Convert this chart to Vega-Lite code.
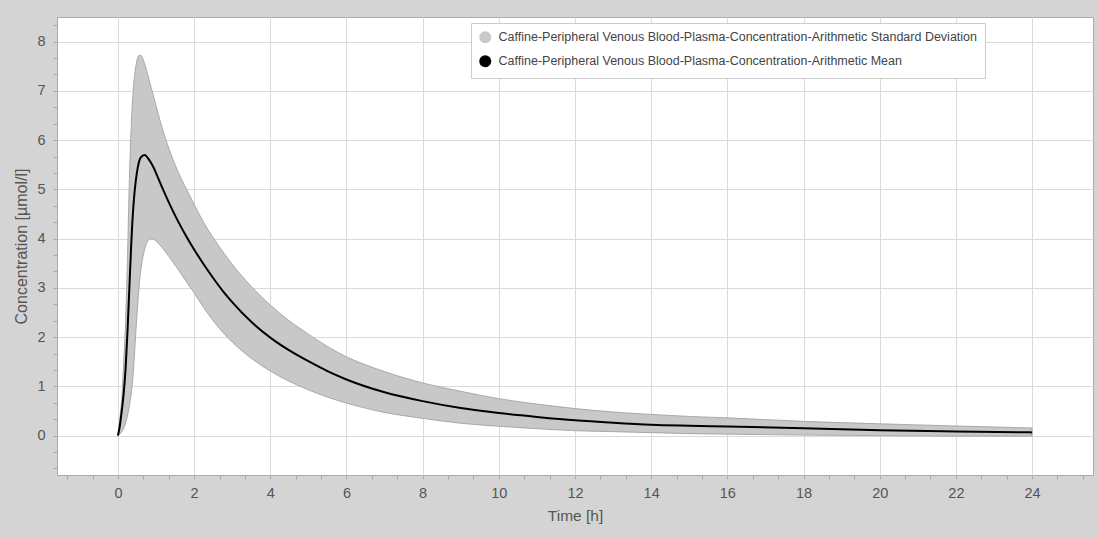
{
  "$schema": "https://vega.github.io/schema/vega-lite/v6.json",
  "width": 1036,
  "height": 458,
  "autosize": {"type": "none"},
  "padding": {"left": 57, "top": 17, "right": 4, "bottom": 62},
  "background": "#d4d4d4",
  "config": {
    "font": "Liberation Sans, Arial, sans-serif",
    "view": {"fill": "#ffffff", "stroke": "#ababab", "strokeWidth": 1}
  },
  "data": {
    "values": [
      {"t": 0, "mean": 0, "lower": 0, "upper": 0},
      {"t": 0.05, "mean": 0.2, "lower": 0.03, "upper": 0.35},
      {"t": 0.1, "mean": 0.5, "lower": 0.08, "upper": 0.75},
      {"t": 0.15, "mean": 0.85, "lower": 0.15, "upper": 1.5},
      {"t": 0.2, "mean": 1.35, "lower": 0.25, "upper": 2.3},
      {"t": 0.25, "mean": 2.1, "lower": 0.4, "upper": 3.6},
      {"t": 0.3, "mean": 3.0, "lower": 0.6, "upper": 5.2},
      {"t": 0.35, "mean": 3.9, "lower": 0.85, "upper": 6.3},
      {"t": 0.4, "mean": 4.6, "lower": 1.25, "upper": 7.0},
      {"t": 0.45, "mean": 5.05, "lower": 1.85, "upper": 7.4},
      {"t": 0.5, "mean": 5.35, "lower": 2.45, "upper": 7.62},
      {"t": 0.55, "mean": 5.55, "lower": 2.98, "upper": 7.72},
      {"t": 0.6, "mean": 5.65, "lower": 3.35, "upper": 7.72},
      {"t": 0.7, "mean": 5.7, "lower": 3.78, "upper": 7.55},
      {"t": 0.8, "mean": 5.62, "lower": 3.97, "upper": 7.28},
      {"t": 0.86, "mean": 5.55, "lower": 4.0, "upper": 7.1},
      {"t": 0.95, "mean": 5.42, "lower": 3.98, "upper": 6.85},
      {"t": 1.0, "mean": 5.33, "lower": 3.95, "upper": 6.7},
      {"t": 1.2, "mean": 4.97, "lower": 3.78, "upper": 6.15},
      {"t": 1.4, "mean": 4.63, "lower": 3.57, "upper": 5.7},
      {"t": 1.6, "mean": 4.32, "lower": 3.35, "upper": 5.32},
      {"t": 1.8, "mean": 4.04, "lower": 3.12, "upper": 5.0},
      {"t": 2.0, "mean": 3.78, "lower": 2.9, "upper": 4.7},
      {"t": 2.25, "mean": 3.48, "lower": 2.6, "upper": 4.33},
      {"t": 2.5, "mean": 3.2, "lower": 2.33, "upper": 4.02},
      {"t": 2.75, "mean": 2.94, "lower": 2.1, "upper": 3.74},
      {"t": 3.0, "mean": 2.71, "lower": 1.9, "upper": 3.48},
      {"t": 3.5, "mean": 2.31, "lower": 1.57, "upper": 3.03},
      {"t": 4.0, "mean": 1.99, "lower": 1.31, "upper": 2.65},
      {"t": 4.5, "mean": 1.73, "lower": 1.1, "upper": 2.33},
      {"t": 5.0, "mean": 1.51, "lower": 0.93, "upper": 2.06},
      {"t": 5.5, "mean": 1.31, "lower": 0.78, "upper": 1.81},
      {"t": 6.0, "mean": 1.14, "lower": 0.66, "upper": 1.6},
      {"t": 7.0, "mean": 0.88, "lower": 0.47, "upper": 1.3},
      {"t": 8.0, "mean": 0.7, "lower": 0.35, "upper": 1.07},
      {"t": 9.0, "mean": 0.56, "lower": 0.25, "upper": 0.9},
      {"t": 10.0, "mean": 0.46, "lower": 0.19, "upper": 0.75},
      {"t": 11.0, "mean": 0.38, "lower": 0.14, "upper": 0.64},
      {"t": 12.0, "mean": 0.31, "lower": 0.1, "upper": 0.55},
      {"t": 13.0, "mean": 0.26, "lower": 0.08, "upper": 0.48},
      {"t": 14.0, "mean": 0.22, "lower": 0.06, "upper": 0.43},
      {"t": 15.0, "mean": 0.2, "lower": 0.04, "upper": 0.39},
      {"t": 16.0, "mean": 0.185, "lower": 0.03, "upper": 0.36},
      {"t": 18.0, "mean": 0.15, "lower": 0.01, "upper": 0.29},
      {"t": 20.0, "mean": 0.11, "lower": 0.0, "upper": 0.24},
      {"t": 22.0, "mean": 0.085, "lower": -0.01, "upper": 0.195},
      {"t": 24.0, "mean": 0.065, "lower": -0.01, "upper": 0.155}
    ]
  },
  "encoding": {
    "x": {
      "field": "t",
      "type": "quantitative",
      "scale": {"domain": [-1.6, 25.6], "nice": false, "zero": false},
      "axis": {
        "title": "Time [h]",
        "values": [-1.3333, -0.6667, 0, 0.6667, 1.3333, 2, 2.6667, 3.3333, 4, 4.6667, 5.3333, 6, 6.6667, 7.3333, 8, 8.6667, 9.3333, 10, 10.6667, 11.3333, 12, 12.6667, 13.3333, 14, 14.6667, 15.3333, 16, 16.6667, 17.3333, 18, 18.6667, 19.3333, 20, 20.6667, 21.3333, 22, 22.6667, 23.3333, 24, 24.6667, 25.3333],
        "tickCount": 200,
        "labelExpr": "abs(datum.value/2 - round(datum.value/2)) < 0.01 ? format(datum.value, 'd') : ''",
        "labelOverlap": false,
        "labelFontSize": 14.5,
        "labelColor": "#555555",
        "labelPadding": 7,
        "domain": false,
        "ticks": true,
        "tickSize": 4,
        "tickColor": "#aaaaaa",
        "grid": true,
        "gridColor": "#dadada",
        "gridOpacity": {"condition": {"test": "abs(datum.value/2 - round(datum.value/2)) < 0.01", "value": 1}, "value": 0},
        "titleFontSize": 15.5,
        "titleFontWeight": "normal",
        "titleColor": "#555555",
        "titlePadding": 9
      }
    }
  },
  "layer": [
    {
      "mark": {"type": "area", "interpolate": "monotone", "opacity": 1, "stroke": "#9a9a9a", "strokeWidth": 0.8},
      "encoding": {
        "y": {
          "field": "lower",
          "type": "quantitative",
          "scale": {"domain": [-0.8, 8.5], "nice": false, "zero": false},
          "axis": {
            "title": "Concentration [µmol/l]",
            "values": [-0.6667, -0.3333, 0, 0.3333, 0.6667, 1, 1.3333, 1.6667, 2, 2.3333, 2.6667, 3, 3.3333, 3.6667, 4, 4.3333, 4.6667, 5, 5.3333, 5.6667, 6, 6.3333, 6.6667, 7, 7.3333, 7.6667, 8, 8.3333],
            "tickCount": 200,
            "labelExpr": "abs(datum.value - round(datum.value)) < 0.01 ? format(datum.value, 'd') : ''",
            "labelOverlap": false,
            "labelFontSize": 14.5,
            "labelColor": "#555555",
            "labelPadding": 8,
            "domain": false,
            "ticks": true,
            "tickSize": 4,
            "tickColor": "#aaaaaa",
            "grid": true,
            "gridColor": "#dadada",
            "gridOpacity": {"condition": {"test": "abs(datum.value - round(datum.value)) < 0.01", "value": 1}, "value": 0},
            "titleFontSize": 16,
            "titleFontWeight": "normal",
            "titleColor": "#555555",
            "titlePadding": 7
          }
        },
        "y2": {"field": "upper"},
        "color": {
          "datum": "Caffine-Peripheral Venous Blood-Plasma-Concentration-Arithmetic Standard Deviation",
          "type": "nominal",
          "scale": {
            "domain": ["Caffine-Peripheral Venous Blood-Plasma-Concentration-Arithmetic Standard Deviation", "Caffine-Peripheral Venous Blood-Plasma-Concentration-Arithmetic Mean"],
            "range": ["#c8c8c8", "#000000"]
          },
          "legend": {
            "title": null,
            "orient": "none",
            "legendX": 414,
            "legendY": 6,
            "fillColor": "#ffffff",
            "strokeColor": "#cccccc",
            "padding": 8,
            "rowPadding": 7,
            "labelFontSize": 12.5,
            "labelColor": "#444444",
            "labelLimit": 800,
            "labelOffset": 7,
            "symbolSize": 110
          }
        }
      }
    },
    {
      "mark": {"type": "line", "interpolate": "monotone", "strokeWidth": 2},
      "encoding": {
        "y": {"field": "mean", "type": "quantitative"},
        "color": {
          "datum": "Caffine-Peripheral Venous Blood-Plasma-Concentration-Arithmetic Mean",
          "type": "nominal"
        }
      }
    }
  ]
}
